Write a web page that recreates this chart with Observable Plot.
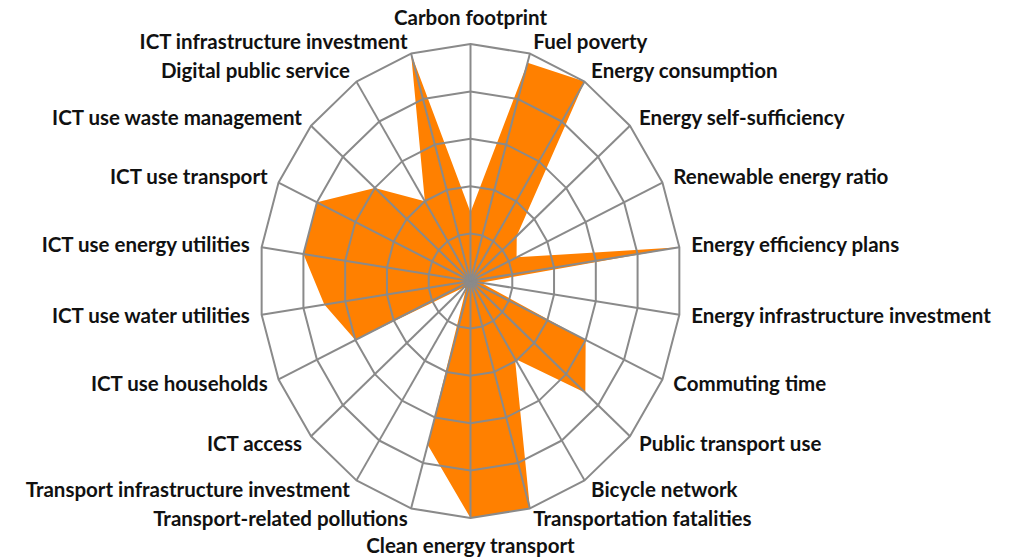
<!DOCTYPE html>
<html>
<head>
<meta charset="utf-8">
<script src="https://cdn.jsdelivr.net/npm/d3@7"></script>
<script src="https://cdn.jsdelivr.net/npm/@observablehq/plot@0.6"></script>
<style>
  html, body { margin: 0; padding: 0; background: #ffffff; }
  #chart svg { display: block; }
</style>
</head>
<body>
<div id="chart"></div>
<script>
const categories = [
  "Carbon footprint", "Fuel poverty", "Energy consumption", "Energy self-sufficiency",
  "Renewable energy ratio", "Energy efficiency plans", "Energy infrastructure investment",
  "Commuting time", "Public transport use", "Bicycle network", "Transportation fatalities",
  "Clean energy transport", "Transport-related pollutions", "Transport infrastructure investment",
  "ICT access", "ICT use households", "ICT use water utilities", "ICT use energy utilities",
  "ICT use transport", "ICT use waste management", "Digital public service",
  "ICT infrastructure investment"
];
const values = [29, 96, 100, 29, 24, 100, 5, 60, 72, 39, 100, 100, 72, 4, 4, 60, 70, 80, 80, 60, 40, 100];
const ringLevels = [20, 40, 60, 80, 100];
const maxValue = 100;

const n = categories.length;
const ang = i => (i * 2 * Math.PI) / n;

// polygon of values
const shape = values.map((v, i) => ({x: (v / maxValue) * Math.sin(ang(i)), y: (v / maxValue) * Math.cos(ang(i))}));

// rings
const rings = [];
for (const lv of ringLevels) {
  for (let i = 0; i < n; i++) {
    rings.push({level: lv, x: (lv / maxValue) * Math.sin(ang(i)), y: (lv / maxValue) * Math.cos(ang(i))});
  }
}
// spokes
const spokes = categories.map((c, i) => ({x: Math.sin(ang(i)), y: Math.cos(ang(i))}));

// scales
const cx = 470, cy = 280.5, rx = 211, ry = 237;
const pad = 12;
const labels = categories.map((c, i) => {
  const s = Math.sin(ang(i)), co = Math.cos(ang(i));
  return {name: c, s, co, x: s + (pad / rx) * s, y: co + (pad / ry) * co};
});
const eps = 1e-6;
const rightLabels = labels.filter(d => d.s > eps);
const leftLabels = labels.filter(d => d.s < -eps);
const topLabels = labels.filter(d => Math.abs(d.s) <= eps && d.co > 0);
const bottomLabels = labels.filter(d => Math.abs(d.s) <= eps && d.co < 0);

const font = {fontFamily: "Lato, 'Open Sans', sans-serif", fontSize: 20.5, fontWeight: "bold", fill: "#111"};
const gridColor = "#8a8a8a";

const chart = Plot.plot({
  width: 1017,
  height: 558,
  margin: 0,
  x: {type: "linear", domain: [-1, 1], range: [cx - rx, cx + rx], axis: null},
  y: {type: "linear", domain: [-1, 1], range: [cy + ry, cy - ry], axis: null},
  style: {background: "#ffffff", overflow: "visible"},
  marks: [
    Plot.line(shape, {x: "x", y: "y", curve: "linear-closed", fill: "#ff8000", stroke: "none"}),
    Plot.line(rings, {x: "x", y: "y", z: "level", curve: "linear-closed", stroke: gridColor, strokeWidth: 2, fill: "none"}),
    Plot.link(spokes, {x1: 0, y1: 0, x2: "x", y2: "y", stroke: gridColor, strokeWidth: 2}),
    Plot.text(rightLabels, {x: "x", y: "y", text: "name", textAnchor: "start", ...font}),
    Plot.text(leftLabels, {x: "x", y: "y", text: "name", textAnchor: "end", ...font}),
    Plot.text(topLabels, {x: 0, y: 1, text: "name", textAnchor: "middle", dy: -26, ...font}),
    Plot.text(bottomLabels, {x: 0, y: -1, text: "name", textAnchor: "middle", dy: 28, ...font})
  ]
});
document.getElementById("chart").appendChild(chart);
</script>
</body>
</html>
